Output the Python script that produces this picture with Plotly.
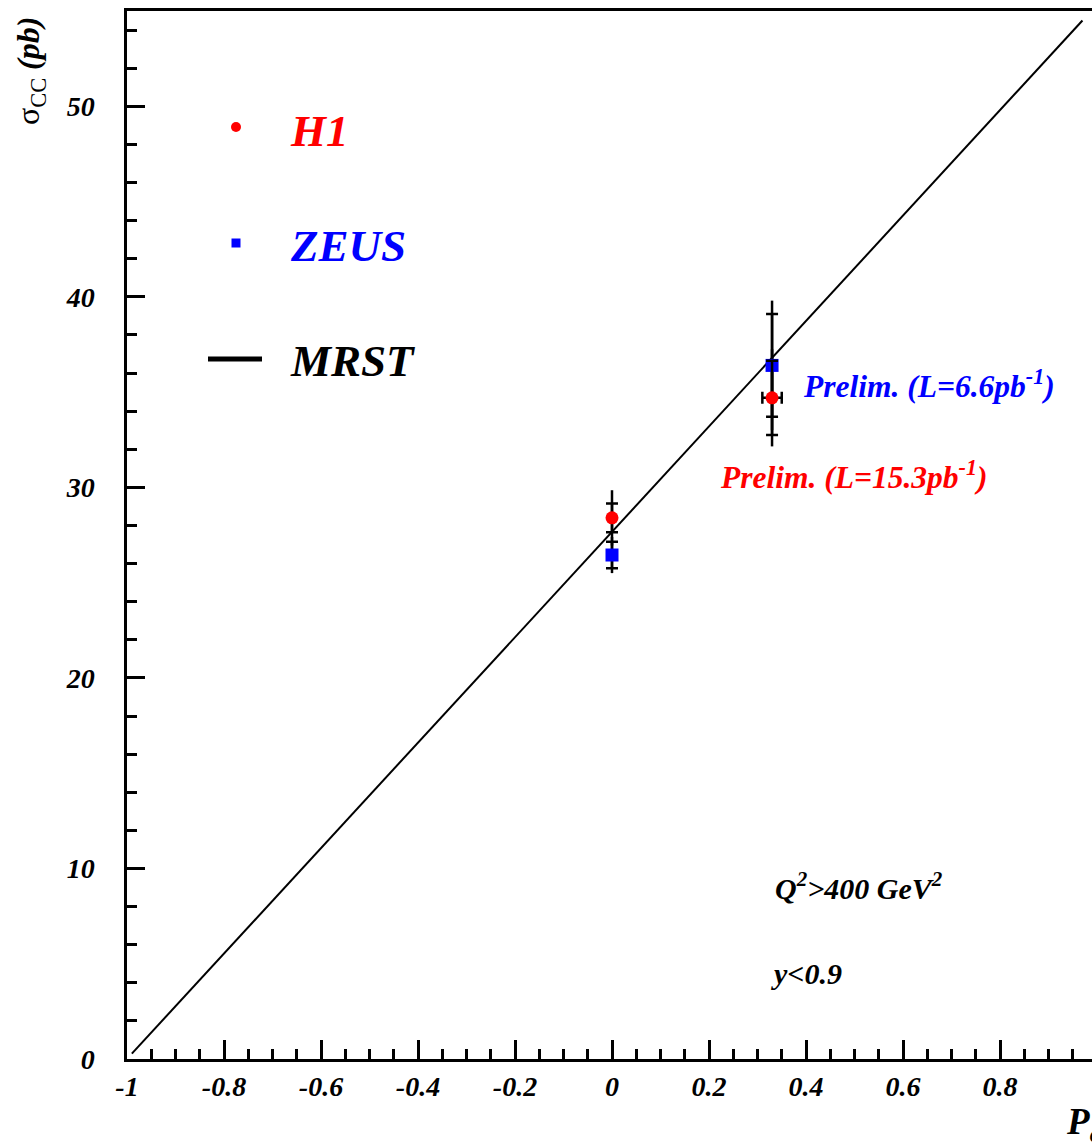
import plotly.graph_objects as go

# ---- data -------------------------------------------------------------
# H1 charged-current cross sections vs. lepton beam polarisation
h1_pol = [0.0, 0.33]
h1_sigma = [28.4, 34.7]
h1_stat = [0.75, 1.95]
h1_total = [1.45, 2.55]
h1_pol_err = [0.0, 0.02]

# ZEUS charged-current cross sections
zeus_pol = [0.0, 0.33]
zeus_sigma = [26.45, 36.4]
zeus_stat = [0.7, 2.7]
zeus_total = [0.95, 3.4]

# MRST prediction (linear in polarisation)
mrst_pol = [-0.99, 0.97]
mrst_sigma = [0.28, 54.5]

x_tickvals = [-1, -0.8, -0.6, -0.4, -0.2, 0, 0.2, 0.4, 0.6, 0.8]
x_ticktext = ["-1", "-0.8", "-0.6", "-0.4", "-0.2", "0", "0.2", "0.4", "0.6", "0.8"]
y_tickvals = [0, 10, 20, 30, 40, 50]
y_ticktext = ["0", "10", "20", "30", "40", "50"]

# ---- geometry -----------------------------------------------------------
W, H = 1092, 1145
ML, MT, MB, MR = 127, 11, 86, 0
PW, PH = W - ML - MR, H - MT - MB
X_RANGE = [-1.0, -1.0 + PW / 485.0]
Y_RANGE = [0.0, 55.0]

FONT = "Liberation Serif"


def px(x):
    return (x - ML) / PW


def py(y):
    return (H - MB - y) / PH


fig = go.Figure()

# MRST line
fig.add_trace(go.Scatter(
    x=mrst_pol, y=mrst_sigma, mode="lines",
    line=dict(color="black", width=2), showlegend=False, hoverinfo="skip"))

# total uncertainties (no caps)
for pol, sig, tot in [(h1_pol, h1_sigma, h1_total), (zeus_pol, zeus_sigma, zeus_total)]:
    fig.add_trace(go.Scatter(
        x=pol, y=sig, mode="markers", marker=dict(size=1, opacity=0),
        error_y=dict(type="data", array=tot, color="black", thickness=2.5, width=0),
        showlegend=False, hoverinfo="skip"))

# statistical uncertainties (capped) + markers
fig.add_trace(go.Scatter(
    x=zeus_pol, y=zeus_sigma, mode="markers",
    marker=dict(symbol="square", size=13, color="#0000ff"),
    error_y=dict(type="data", array=zeus_stat, color="black", thickness=2.5, width=6),
    showlegend=False, name="ZEUS"))
fig.add_trace(go.Scatter(
    x=h1_pol, y=h1_sigma, mode="markers",
    marker=dict(symbol="circle", size=13, color="#ff0000"),
    error_y=dict(type="data", array=h1_stat, color="black", thickness=2.5, width=6),
    error_x=dict(type="data", array=h1_pol_err, color="black", thickness=2.5, width=6),
    showlegend=False, name="H1"))

axis_font = dict(family=FONT, size=28, color="black", weight="bold", style="italic")

fig.update_xaxes(
    range=X_RANGE, showgrid=False, zeroline=False,
    showline=True, linecolor="black", linewidth=2.5, mirror=True,
    ticks="inside", ticklen=19, tickwidth=2.5, tickcolor="black",
    tickvals=x_tickvals, ticktext=x_ticktext, tickfont=axis_font,
    ticklabelstandoff=1,
    minor=dict(dtick=0.05, tick0=0, ticks="inside", ticklen=10, tickwidth=2.5,
               tickcolor="black", showgrid=False),
)
fig.update_yaxes(
    range=Y_RANGE, showgrid=False, zeroline=False,
    showline=True, linecolor="black", linewidth=2.5, mirror=False,
    ticks="inside", ticklen=18, tickwidth=2.5, tickcolor="black",
    tickvals=y_tickvals, ticktext=y_ticktext, tickfont=axis_font,
    ticklabelstandoff=24,
    minor=dict(dtick=2, tick0=0, ticks="inside", ticklen=10, tickwidth=2.5,
               tickcolor="black", showgrid=False),
)

# legend drawn by hand
shapes = [
    dict(type="circle", xref="paper", yref="paper",
         x0=px(231), x1=px(241), y0=py(132), y1=py(122),
         fillcolor="#ff0000", line=dict(width=0)),
    dict(type="rect", xref="paper", yref="paper",
         x0=px(231.5), x1=px(240.5), y0=py(247.5), y1=py(238.5),
         fillcolor="#0000ff", line=dict(width=0)),
    dict(type="line", xref="paper", yref="paper",
         x0=px(208), x1=px(262), y0=py(359), y1=py(359),
         line=dict(color="black", width=5)),
]

def label(text, x, y, color, size, xanchor="left", yanchor="middle", angle=0,
          weight="bold", style="italic"):
    return dict(text=text, xref="paper", yref="paper", x=px(x), y=py(y),
                xanchor=xanchor, yanchor=yanchor, showarrow=False, textangle=angle,
                font=dict(family=FONT, size=size, color=color, weight=weight, style=style))

annotations = [
    label("H1", 288, 131, "#ff0000", 45),
    label("ZEUS", 288, 246, "#0000ff", 45),
    label("MRST", 288, 361, "black", 45),
    label("Prelim. (L=6.6pb<sup>-1</sup>)", 801, 384, "#0000ff", 31.5),
    label("Prelim. (L=15.3pb<sup>-1</sup>)", 718, 475, "#ff0000", 31.5),
    label("Q<sup>2</sup>>400 GeV<sup>2</sup>", 773, 886, "black", 30),
    label("y<0.9", 769, 973, "black", 30),
    label("P<sub>e</sub>", 1064, 1124, "black", 37, yanchor="middle"),
    dict(text="σ<sub>CC</sub> <b><i>(pb)</i></b>", xref="paper", yref="paper",
         x=px(30), y=py(71), xanchor="center", yanchor="middle", showarrow=False,
         textangle=-90, font=dict(family=FONT, size=32, color="black")),
]

fig.update_layout(
    width=W, height=H,
    margin=dict(l=ML, r=MR, t=MT, b=MB, pad=0),
    paper_bgcolor="white", plot_bgcolor="white",
    shapes=shapes, annotations=annotations,
    showlegend=False,
)

fig.write_html("out.html")
